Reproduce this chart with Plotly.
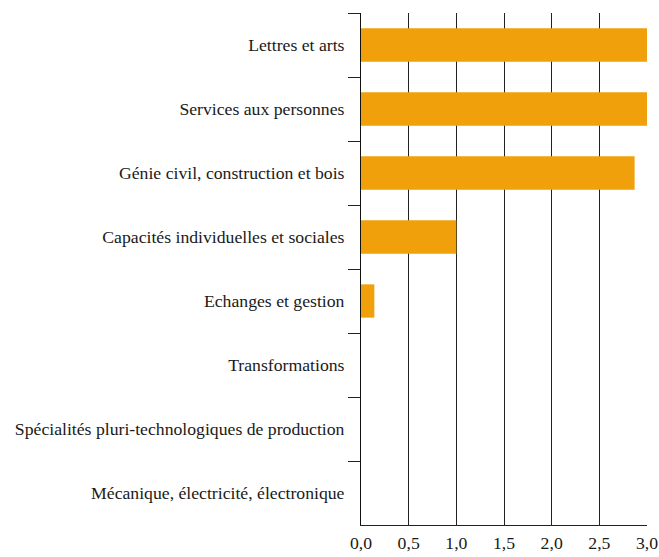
import plotly.graph_objects as go

categories = [
    "Lettres et arts",
    "Services aux personnes",
    "Génie civil, construction et bois",
    "Capacités individuelles et sociales",
    "Echanges et gestion",
    "Transformations",
    "Spécialités pluri-technologiques de production",
    "Mécanique, électricité, électronique",
]
values = [3.0, 3.0, 2.87, 1.0, 0.14, 0.0, 0.0, 0.0]
x_ticks = [0.0, 0.5, 1.0, 1.5, 2.0, 2.5, 3.0]

fig = go.Figure(go.Bar(
    x=values, y=categories, orientation="h",
    marker=dict(color="#F0A00B", line=dict(width=0)),
    width=0.52,
))

font = "Liberation Serif"
fig.update_layout(
    width=659, height=557,
    margin=dict(l=361, r=12, t=13, b=32, autoexpand=False),
    paper_bgcolor="white", plot_bgcolor="white",
    separators=", ",
    font=dict(family=font, size=17.7, color="#1a1a1a"),
    showlegend=False,
)
fig.update_xaxes(
    range=[0, 3.0], tickvals=x_ticks, tickformat=".1f",
    showgrid=True, gridcolor="#222", gridwidth=1,
    showline=True, linecolor="#222", linewidth=1,
    zeroline=False, ticks="", fixedrange=True, automargin=False,
    ticklabelstandoff=2,
)
fig.update_yaxes(
    categoryorder="array", categoryarray=categories,
    range=[7.5, -0.5], automargin=False, fixedrange=True,
    showline=True, linecolor="#111", linewidth=1,
    ticks="outside", tickson="boundaries", ticklen=12, tickcolor="#222",
    ticklabelstandoff=12,
    showgrid=False,
)
fig.write_html("out.html", config={"displayModeBar": False},
               post_script="document.body.style.margin='0';")
